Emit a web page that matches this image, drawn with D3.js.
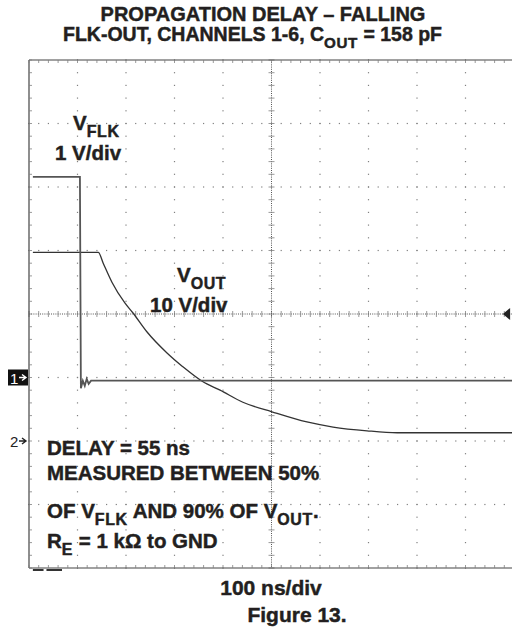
<!DOCTYPE html>
<html>
<head>
<meta charset="utf-8">
<script src="https://cdn.jsdelivr.net/npm/d3@7"></script>
<style>
  body { margin:0; background:#fff; }
  text { font-family: "Liberation Sans", Arial, Helvetica, sans-serif; font-weight:bold; fill:#231f20; }
  text.heavy { stroke:#231f20; stroke-width:0.45px; }
</style>
</head>
<body>
<div id="body"></div>
<script>
//DATA (time in ns, volts)
var flkTime = [-492, -395, -393, -389, -385, -381, -377, -372, 496];
var flkVolt = [3.16, 3.16, -0.17, -0.05, -0.13, -0.02, -0.10, -0.05, -0.05];

var outTime = [-492, -357, -347, -329, -302, -286, -257, -216, -183, -143, -106, -59, 1, 73, 127, 197, 259, 496];
var outVolt = [29.7, 29.7, 28.0, 25.0, 21.7, 20.2, 17.2, 13.9, 11.7, 9.4, 8.0, 6.1, 4.6, 3.0, 2.2, 1.6, 1.3, 1.3];

var channels = ["1", "2"];        // ground markers
var chGround = [-1, -2];          // ground position in divisions
var chScale = [1, 10];            // V/div

var width = 512;
var height = 630;

var plot = {left:29, right:514, top:60, bottom:568};

var svg = d3.select("#body").append("svg")
  .attr("width", width)
  .attr("height", height);

//scales: x in ns (100 ns/div, 10 div), y in divisions (8 div)
var x = d3.scaleLinear().domain([-500, 500]).range([plot.left, plot.right]);
var y = d3.scaleLinear().domain([-4, 4]).range([plot.bottom, plot.top]);

var majorX = d3.range(-500, 501, 100);
var minorX = d3.range(-500, 501, 20);
var majorY = d3.range(-4, 4.01, 1);
var minorY = d3.range(-4, 4.01, 0.2);

var grid = svg.append("g").attr("id", "grid");
var gridColor = "#808080";

//dotted graticule
majorX.forEach(function(t){
  if (t === -500 || t === 0) return;
  grid.selectAll(null).data(minorY).enter().append("rect")
    .attr("x", x(t) - 0.6).attr("y", function(d){ return y(d) - 0.6; })
    .attr("width", 1.2).attr("height", 1.2).attr("fill", gridColor);
});
majorY.forEach(function(d){
  if (d === 4 || d === -4 || d === 0) return;
  grid.selectAll(null).data(minorX).enter().append("rect")
    .attr("x", function(t){ return x(t) - 0.6; }).attr("y", y(d) - 0.6)
    .attr("width", 1.2).attr("height", 1.2).attr("fill", gridColor);
});

//center lines with cross ticks
grid.append("line")
  .attr("x1", plot.left).attr("x2", plot.right).attr("y1", y(0)).attr("y2", y(0))
  .attr("stroke", "#555").attr("stroke-dasharray", "1,1.2");
grid.selectAll(null).data(minorX).enter().append("line")
  .attr("x1", function(t){ return x(t); }).attr("x2", function(t){ return x(t); })
  .attr("y1", y(0) - 3).attr("y2", y(0) + 3)
  .attr("stroke", gridColor).attr("stroke-width", 0.8);

grid.append("line")
  .attr("x1", x(0)).attr("x2", x(0)).attr("y1", plot.top).attr("y2", plot.bottom)
  .attr("stroke", "#555").attr("stroke-dasharray", "1,1.2");
grid.selectAll(null).data(minorY).enter().append("line")
  .attr("x1", x(0) - 3).attr("x2", x(0) + 3)
  .attr("y1", function(d){ return y(d); }).attr("y2", function(d){ return y(d); })
  .attr("stroke", gridColor).attr("stroke-width", 0.8);

//border + edge ticks
var border = "#444";
grid.append("line").attr("x1", plot.left).attr("x2", plot.right).attr("y1", plot.top).attr("y2", plot.top)
  .attr("stroke", border).attr("stroke-width", 1.2);
grid.append("line").attr("x1", plot.left).attr("x2", plot.right).attr("y1", plot.bottom).attr("y2", plot.bottom)
  .attr("stroke", border).attr("stroke-width", 1.2);
grid.append("line").attr("x1", plot.left).attr("x2", plot.left).attr("y1", plot.top).attr("y2", plot.bottom)
  .attr("stroke", border).attr("stroke-width", 1.2);

grid.selectAll(null).data(minorX).enter().append("line")
  .attr("x1", function(t){ return x(t); }).attr("x2", function(t){ return x(t); })
  .attr("y1", plot.top).attr("y2", plot.top + 3)
  .attr("stroke", gridColor).attr("stroke-width", 0.8);
grid.selectAll(null).data(minorX).enter().append("line")
  .attr("x1", function(t){ return x(t); }).attr("x2", function(t){ return x(t); })
  .attr("y1", plot.bottom).attr("y2", plot.bottom - 3)
  .attr("stroke", gridColor).attr("stroke-width", 0.8);
grid.selectAll(null).data(minorY).enter().append("line")
  .attr("x1", plot.left).attr("x2", plot.left + 3)
  .attr("y1", function(d){ return y(d); }).attr("y2", function(d){ return y(d); })
  .attr("stroke", gridColor).attr("stroke-width", 0.8);

//little scope markers on the bottom edge
grid.append("line").attr("x1", x(-492)).attr("x2", x(-470)).attr("y1", plot.bottom + 2).attr("y2", plot.bottom + 2)
  .attr("stroke", "#333").attr("stroke-width", 2);
grid.append("line").attr("x1", x(-464)).attr("x2", x(-432)).attr("y1", plot.bottom + 2).attr("y2", plot.bottom + 2)
  .attr("stroke", "#333").attr("stroke-width", 2);

//trigger level arrow on right edge
svg.append("path")
  .attr("d", "M" + (x(477)) + "," + y(0) + "L" + x(492) + "," + (y(0) - 6) + "L" + x(492) + "," + (y(0) + 6) + "Z")
  .attr("fill", "#222");

//TRACES
var data = svg.append("g").attr("id", "data");

var flk = flkTime.map(function(t, i){ return [t, flkVolt[i] / chScale[0] + chGround[0]]; });
var out = outTime.map(function(t, i){ return [t, outVolt[i] / chScale[1] + chGround[1]]; });

var line = d3.line().x(function(d){ return x(d[0]); }).y(function(d){ return y(d[1]); });

data.append("path").attr("d", line.curve(d3.curveMonotoneX)(out))
  .attr("fill", "none").attr("stroke", "#333").attr("stroke-width", 1.3);
data.append("path").attr("d", line.curve(d3.curveLinear)(flk))
  .attr("fill", "none").attr("stroke", "#555").attr("stroke-width", 1.8);

//channel ground markers: "1→" boxed, "2→" plain
var ui = svg.append("g").attr("id", "ui");
ui.append("rect").attr("x", 8).attr("y", y(chGround[0]) - 8).attr("width", 20).attr("height", 16).attr("fill", "#111");
channels.forEach(function(ch, i){
  var col = i === 0 ? "#fff" : "#222";
  var gy = y(chGround[i]);
  ui.append("text").attr("x", 10).attr("y", gy + 6)
    .style("font-weight", "normal").style("font-size", "15px").style("fill", col)
    .text(ch);
  ui.append("path")
    .attr("d", "M19," + gy + "H25M22," + (gy - 3) + "L26," + gy + "L22," + (gy + 3))
    .attr("fill", "none").attr("stroke", col).attr("stroke-width", 1.4);
});

//LABELS
function label(xp, yp, size, parts){
  var t = ui.append("text").attr("class", "heavy").attr("x", xp).attr("y", yp).style("font-size", size + "px");
  parts.forEach(function(p){
    var s = t.append("tspan").text(p.t);
    if (p.sub) s.attr("dy", 7).style("font-size", (size * 0.78) + "px").style("letter-spacing", "0.6px");
    if (p.up) s.attr("dy", -7);
  });
  return t;
}

ui.append("text").attr("class", "heavy").attr("x", 263).attr("y", 21).attr("text-anchor", "middle")
  .style("font-size", "20px").text("PROPAGATION DELAY \u2013 FALLING");
label(63, 41, 19.5, [{t:"FLK-OUT, CHANNELS 1-6, C"}, {t:"OUT", sub:true}, {t:" = 158 pF", up:true}]);

label(73, 130, 20.5, [{t:"V"}, {t:"FLK", sub:true}]);
label(55, 160, 20.5, [{t:"1 V/div"}]);

label(177, 282, 20.5, [{t:"V"}, {t:"OUT", sub:true}]);
label(150, 312, 20.5, [{t:"10 V/div"}]);

label(47, 455, 20.5, [{t:"DELAY = 55 ns"}]);
label(47, 480, 20.5, [{t:"MEASURED BETWEEN 50%"}]);
label(47, 518, 20.5, [{t:"OF V"}, {t:"FLK", sub:true}, {t:" AND 90% OF V", up:true}, {t:"OUT", sub:true}, {t:".", up:true}]);
label(47, 548, 20.5, [{t:"R"}, {t:"E", sub:true}, {t:" = 1 k\u03A9 to GND", up:true}]);

ui.append("text").attr("class", "heavy").attr("x", 271).attr("y", 595).attr("text-anchor", "middle")
  .style("font-size", "21px").text("100 ns/div");
ui.append("text").attr("class", "heavy").attr("x", 297).attr("y", 622).attr("text-anchor", "middle")
  .style("font-size", "21px").text("Figure 13.");
</script>
</body>
</html>
